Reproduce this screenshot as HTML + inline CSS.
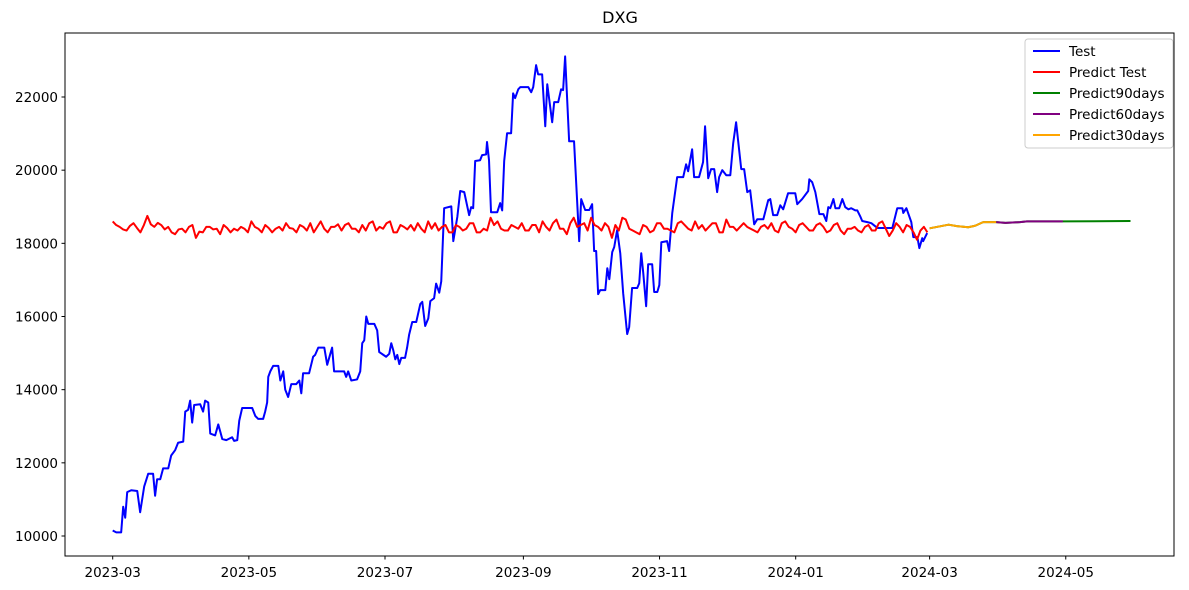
<!DOCTYPE html>
<html><head><meta charset="utf-8"><style>
body{margin:0;background:#fff;}
svg{display:block;font-family:"DejaVu Sans","Liberation Sans",sans-serif;}
</style></head><body>
<svg id="chart" width="1189" height="590" xmlns="http://www.w3.org/2000/svg">
<rect x="0" y="0" width="1189" height="590" fill="#fff"/>
<text x="620" y="23" font-size="16" text-anchor="middle">DXG</text>
<g id="series-layer"></g>
<rect x="65" y="33" width="1109" height="523" fill="none" stroke="#000" stroke-width="1"/>
<g id="axis-layer"></g>
<g>
<rect x="1025" y="39" width="148" height="109" rx="3" fill="#fff" fill-opacity="0.8" stroke="#ccc"/>
<g><line x1="1033" y1="51" x2="1060" y2="51" stroke="blue" stroke-width="2"/><text x="1069" y="56" font-size="13.5">Test</text></g>
<g><line x1="1033" y1="72" x2="1060" y2="72" stroke="red" stroke-width="2"/><text x="1069" y="77" font-size="13.5">Predict Test</text></g>
<g><line x1="1033" y1="93" x2="1060" y2="93" stroke="green" stroke-width="2"/><text x="1069" y="98" font-size="13.5">Predict90days</text></g>
<g><line x1="1033" y1="114" x2="1060" y2="114" stroke="purple" stroke-width="2"/><text x="1069" y="119" font-size="13.5">Predict60days</text></g>
<g><line x1="1033" y1="135" x2="1060" y2="135" stroke="orange" stroke-width="2"/><text x="1069" y="140" font-size="13.5">Predict30days</text></g>
</g>
</svg>
<script>
// days since 2023-03-01
const xTickDays = [0, 61, 122, 184, 245, 306, 366, 427];
const xTickLabels = ["2023-03","2023-05","2023-07","2023-09","2023-11","2024-01","2024-03","2024-05"];
const yTickValues = [10000, 12000, 14000, 16000, 18000, 20000, 22000];
const yTickLabels = ["10000","12000","14000","16000","18000","20000","22000"];

const testDays = [0,1.6,3.8,4.7,5.6,6.5,8.3,11,12.3,14.1,15.9,18.1,19,19.9,21.3,22.6,24.9,26.2,28,29.3,31.6,32.5,33.8,34.7,35.6,36.5,39.2,40.5,41.4,42.8,43.7,45.9,47.3,49.1,50.9,53.5,54.4,55.8,56.7,58,62.5,63.9,65.2,67.4,68.3,69.2,69.7,70.6,71.9,74.2,75.1,76.4,77.3,78.6,80,82.2,83.6,84.5,85.3,88,89.8,90.7,92.1,94.8,96.1,97.5,98.3,99.2,103.7,104.6,105.5,106.9,109.5,110.9,111.8,112.7,113.6,114.5,117.2,118.5,119.4,122.5,123.9,124.8,125.7,126.6,127.5,128.4,129.3,131,131.9,132.8,134.2,136,137.8,138.7,140,141.4,142.3,144,144.9,146.3,147.2,148.5,151.7,152.6,154.4,155.7,157.5,159.7,160.6,161.5,162.4,164.6,165.5,167.3,167.7,168.6,169.5,172.3,173.6,174.5,175.4,176.7,178.5,179.4,180.3,181.7,182.6,186.2,187.5,188.4,189.7,190.6,192.4,193.8,194.7,196.9,197.8,199.6,200.9,201.8,202.7,204.5,206.7,209,209.9,211.7,213.5,214.8,215.7,216.6,217.5,218.4,220.7,221.6,222.5,223.8,224.7,226,227.4,228.7,230.5,231.4,232.7,235,235.9,236.8,237.7,239,239.9,241.7,242.6,244,244.9,245.8,248.4,249.3,250.7,252.9,255.6,256.9,257.8,259.6,260.5,262.7,264.5,265.4,266.8,268.1,269.5,270.8,271.7,273.1,274.9,276.7,278,279.3,281.6,282.9,284.3,285.6,287.4,288.8,291.5,293.7,294.6,295.9,297.7,299.1,300.4,302.6,305.8,306.7,308.9,311.6,312.1,313.4,314.8,316.6,318.4,319.7,320.6,321.5,322.9,323.8,325.5,326.9,328.2,329.6,330.9,332.7,333.6,334.9,335.8,338.1,339.9,342.6,349.3,351.5,353.8,354.2,355.6,357.8,358.7,360.5,361.4,362.7,363.1,364.9];
const testValues = [10150,10100,10100,10800,10500,11200,11250,11230,10650,11350,11700,11700,11100,11550,11550,11850,11850,12200,12350,12550,12580,13400,13450,13700,13100,13580,13600,13400,13700,13650,12800,12750,13050,12650,12620,12700,12600,12620,13150,13500,13500,13280,13200,13200,13400,13650,14350,14500,14650,14650,14250,14500,14000,13800,14150,14150,14250,13900,14450,14450,14900,14950,15150,15150,14680,14980,15150,14500,14500,14350,14500,14250,14280,14500,15270,15350,16000,15800,15800,15620,15030,14900,14980,15270,15080,14830,14950,14700,14870,14870,15150,15500,15850,15850,16340,16400,15740,15950,16420,16500,16900,16650,16960,18960,19010,18060,18720,19430,19400,18770,18990,18960,20250,20270,20410,20430,20770,20270,18850,18850,19100,18900,20250,21010,21010,22100,21970,22210,22270,22270,22130,22270,22870,22620,22620,21200,22350,21310,21860,21860,22210,22190,23110,20790,20790,18060,19210,18910,18910,19070,17790,17790,16610,16720,16720,17320,17020,17760,17900,18360,17730,16640,15520,15710,16780,16780,16910,17730,17190,16280,17430,17430,16670,16670,16860,18030,18060,17790,18830,19810,19810,20160,19970,20570,19810,19810,20220,21200,19780,20030,20030,19400,19810,20000,19860,19860,20740,21310,20030,20030,19400,19450,18520,18660,18660,19180,19210,18770,18770,19040,18930,19370,19370,19070,19210,19430,19750,19670,19400,18800,18800,18610,18990,18960,19210,18960,18960,19210,18990,18930,18960,18900,18900,18740,18610,18580,18550,18420,18420,18960,18960,18830,18960,18580,18170,18170,17870,18140,18060,18280];

const predTestValues = [18600,18500,18450,18380,18350,18480,18550,18420,18300,18500,18750,18520,18450,18560,18500,18380,18450,18300,18250,18380,18400,18300,18450,18500,18150,18320,18300,18450,18450,18380,18400,18250,18500,18420,18300,18400,18350,18450,18400,18300,18600,18450,18400,18300,18500,18420,18300,18400,18450,18350,18550,18420,18400,18300,18500,18450,18350,18550,18300,18450,18600,18400,18300,18450,18450,18520,18350,18500,18550,18400,18400,18300,18500,18350,18550,18600,18350,18450,18400,18550,18600,18300,18300,18500,18450,18380,18500,18350,18550,18400,18300,18600,18400,18550,18350,18450,18500,18300,18300,18500,18450,18350,18400,18550,18550,18300,18300,18400,18350,18700,18500,18600,18400,18350,18350,18500,18450,18400,18550,18350,18350,18500,18500,18300,18600,18450,18350,18550,18650,18400,18400,18250,18550,18700,18450,18500,18550,18350,18700,18500,18450,18350,18550,18450,18150,18500,18350,18700,18650,18400,18350,18300,18250,18500,18450,18300,18350,18550,18550,18400,18400,18350,18300,18550,18600,18500,18400,18350,18600,18400,18500,18350,18450,18550,18550,18300,18300,18650,18450,18450,18350,18450,18550,18450,18400,18350,18300,18450,18500,18400,18550,18350,18300,18550,18600,18450,18400,18300,18500,18550,18450,18350,18350,18500,18550,18450,18300,18350,18500,18550,18350,18250,18400,18400,18450,18350,18300,18450,18500,18350,18350,18550,18600,18400,18200,18350,18550,18450,18300,18500,18450,18300,18100,18350,18450,18300];
const predTestStartDay = 0, predTestEndDay = 365;

const pred90Days = [366, 374.5, 378.2, 383.3, 386.4, 390, 395.8, 400, 406.5, 409.6, 418, 425.7, 440, 456];
const pred90Values = [18410, 18510, 18470, 18440, 18480, 18580, 18580, 18560, 18580, 18600, 18600, 18600, 18605, 18610];
const pred60Days = [395.8, 400, 406.5, 409.6, 418, 425.7];
const pred60Values = [18580, 18560, 18580, 18600, 18600, 18600];
const pred30Days = [366, 374.5, 378.2, 383.3, 386.4, 390, 395.8];
const pred30Values = [18410, 18510, 18470, 18440, 18480, 18580, 18580];

const X0 = 112.7, PXD = 2.232;
const Y0 = 536, PXV = 439 / 12000;
function xScale(d){ return X0 + d * PXD; }
function yScale(v){ return Y0 - (v - 10000) * PXV; }
const NS = "http://www.w3.org/2000/svg";
const axisLayer = document.getElementById('axis-layer');
const seriesLayer = document.getElementById('series-layer');

xTickDays.forEach((d, i) => {
  const x = xScale(d);
  const t = document.createElementNS(NS, 'line');
  t.setAttribute('x1', x); t.setAttribute('x2', x); t.setAttribute('y1', 556); t.setAttribute('y2', 559.5);
  t.setAttribute('stroke', '#000');
  
  
  axisLayer.appendChild(t);
  const l = document.createElementNS(NS, 'text');
  l.setAttribute('x', x); l.setAttribute('y', 577); l.setAttribute('font-size', '13.5'); l.setAttribute('text-anchor', 'middle');
  l.textContent = xTickLabels[i];
  
  
  axisLayer.appendChild(l);
});
yTickValues.forEach((v, i) => {
  const y = yScale(v);
  const t = document.createElementNS(NS, 'line');
  t.setAttribute('x1', 61.5); t.setAttribute('x2', 65); t.setAttribute('y1', y); t.setAttribute('y2', y);
  t.setAttribute('stroke', '#000');
  
  
  axisLayer.appendChild(t);
  const l = document.createElementNS(NS, 'text');
  l.setAttribute('x', 58); l.setAttribute('y', y + 5); l.setAttribute('font-size', '13.5'); l.setAttribute('text-anchor', 'end');
  l.textContent = yTickLabels[i];
  
  
  axisLayer.appendChild(l);
});

function drawLine(days, vals, color, name){
  const pts = days.map((d, i) => xScale(d).toFixed(2) + ',' + yScale(vals[i]).toFixed(2)).join(' ');
  const p = document.createElementNS(NS, 'polyline');
  p.setAttribute('points', pts);
  p.setAttribute('fill', 'none');
  p.setAttribute('stroke', color);
  p.setAttribute('stroke-width', '2');
  p.setAttribute('stroke-linejoin', 'round');
  
  
  seriesLayer.appendChild(p);
}
const predTestDays = predTestValues.map((v, i) => predTestStartDay + i * (predTestEndDay - predTestStartDay) / (predTestValues.length - 1));
drawLine(testDays, testValues, 'blue', 'test-line');
drawLine(predTestDays, predTestValues, 'red', 'predict-test-line');
drawLine(pred90Days, pred90Values, 'green', 'predict90days-line');
drawLine(pred60Days, pred60Values, 'purple', 'predict60days-line');
drawLine(pred30Days, pred30Values, 'orange', 'predict30days-line');
</script>
</body></html>
